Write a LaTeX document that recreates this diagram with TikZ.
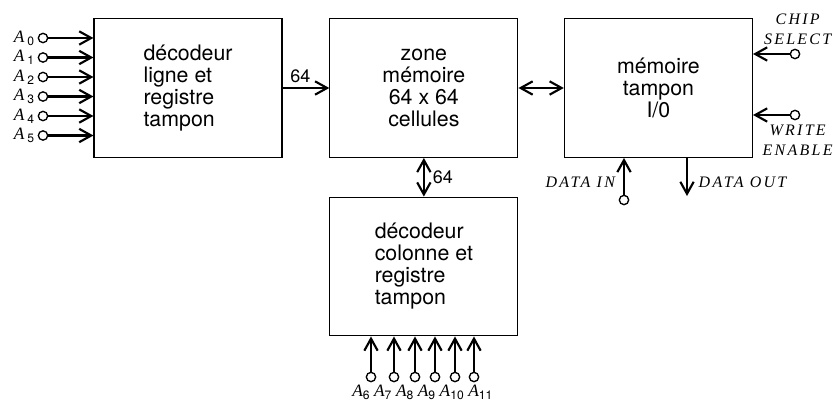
\documentclass[tikz,border=0pt]{standalone}
\usepackage{fontspec}
\setmainfont{TeX Gyre Heros}
\newfontfamily\sigfont[LetterSpace=14]{Liberation Serif}
\newfontfamily\adrfont{Liberation Serif}
\usetikzlibrary{positioning,arrows.meta}

\begin{document}
\begin{tikzpicture}[x=0.75pt,y=-0.75pt,
  font=\fontsize{16}{16.5}\selectfont,node distance=34pt,
  >={Straight Barb[length=9pt,width=10pt]},
  blk/.style={draw,line width=0.9pt,minimum width=141pt,minimum height=104pt,inner sep=3pt},
  wire/.style={line width=1.6pt},
  io/.style={circle,draw,line width=1pt,fill=white,inner sep=0pt,minimum size=7pt},
  sig/.style={font=\fontsize{12}{15}\sigfont\itshape,inner sep=1pt},
  adr/.style={font=\fontsize{13}{13}\adrfont,inner sep=1pt},
  num/.style={font=\fontsize{13.5}{14}\selectfont,inner sep=1pt},
  ]
\useasboundingbox (0,0) rectangle (835,403);

% ---- blocks ----
\node[blk,align=left] (dl) at (188,88) {décodeur\\ligne et\\registre\\tampon};
\node[blk,align=center,right=35pt of dl] (zm) {zone\\mémoire\\64 x 64\\cellules};
\node[blk,align=center,right=of zm] (mt) {mémoire\\tampon\\I/0};
\node[blk,align=left,below=29pt of zm] (dc) {décodeur\\colonne et\\registre\\tampon};

% ---- internal buses ----
\draw[wire,->] (dl) -- node[num,above=2pt,pos=0.38] (n1) {64} (zm);
\draw[wire,<->] (zm) -- (mt);
\draw[wire,<->] (zm) -- node[num,right=5pt] (n2) {64} (dc);

% ---- row address ----
\foreach \i in {0,...,5}{
  \node[io] (a\i) at (43,{38+19.5*\i}) {};
  \node[adr,left=1pt of a\i] (la\i) {\itshape A\,\textsubscript{\upshape\normalfont\i}};
  \draw[wire,->] (a\i) -- (a\i -| dl.west);
}

% ---- column address ----
\foreach \x/\i in {371/6,394/7,415/8,435/9,455/10,474/11}{
  \node[io] (b\i) at (\x,377) {};
  \draw[wire,->] (b\i) -- (b\i |- dc.south);
}
\node[adr,anchor=north west,inner sep=0pt] (lb6) at (352,385) {\itshape A\textsubscript{\upshape\normalfont 6}};
\foreach \i/\p in {7/6,8/7,9/8,10/9,11/10}{
  \node[adr,inner sep=0pt,base right=2.5pt of lb\p] (lb\i) {\itshape A\textsubscript{\upshape\normalfont\i}};
}

% ---- control + data ----
\node[io] (cs) at (795,54) {};
\node[io] (we) at (795,115) {};
\node[sig,align=center,above=2pt of cs,xshift=2pt] (csl) {CHIP\\SELECT};
\node[sig,align=center,below=2pt of we,xshift=2pt] (wel) {WRITE\\ENABLE};
\draw[wire,->] (cs) -- (cs -| mt.east);
\draw[wire,->] (we) -- (we -| mt.east);

\node[io] (din) at (624,200) {};
\coordinate (dout) at (687,196);
\draw[wire,->] (din) -- node[sig,left=5pt,pos=0.35] (dinl) {DATA IN} (din |- mt.south);
\draw[wire,->] (mt.south -| dout) -- node[sig,right=7pt,pos=0.65] (doutl) {DATA OUT} (dout);

\end{tikzpicture}
\end{document}
